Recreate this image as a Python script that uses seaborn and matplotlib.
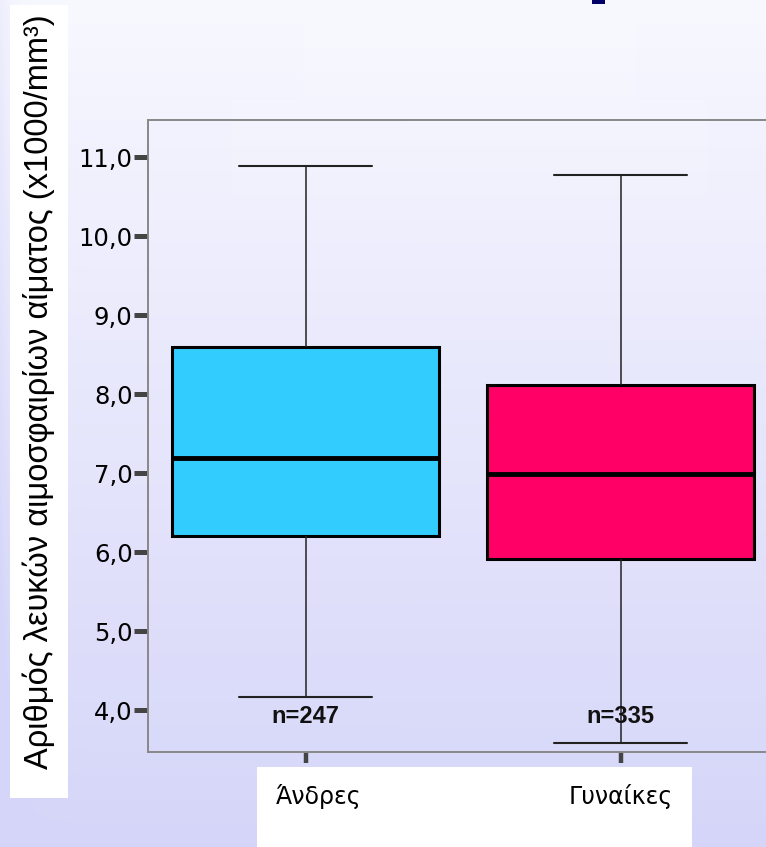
import numpy as np
import pandas as pd
import matplotlib
matplotlib.use("Agg")
import matplotlib.pyplot as plt
from matplotlib.patches import Rectangle
from matplotlib.ticker import FuncFormatter
from matplotlib.transforms import ScaledTranslation
import seaborn as sns

# White blood cell counts (x1000/mm³) by sex
groups = ["Άνδρες", "Γυναίκες"]
# five-number summaries: lower whisker, Q1, median, Q3, upper whisker
men_wbc = [4.17, 6.20, 7.19, 8.60, 10.89]
women_wbc = [3.59, 5.91, 6.99, 8.11, 10.78]
counts = [247, 335]
box_colors = ["#33CCFF", "#FF0066"]
y_ticks = [4, 5, 6, 7, 8, 9, 10, 11]
y_label = "Αριθμός λευκών αιμοσφαιρίων αίματος (x1000/mm³)"

df = pd.DataFrame({
    "group": np.repeat(groups, len(men_wbc)),
    "wbc": men_wbc + women_wbc,
})

sns.set_style("white")
plt.rcParams["font.family"] = ["DejaVu Sans"]

W, H = 766, 847
fig = plt.figure(figsize=(W / 100, H / 100), dpi=100)

# slide-style lavender background, drawn in pixel coordinates
bg = fig.add_axes([0, 0, 1, 1], zorder=-10)
yy, xx = np.mgrid[0:H, 0:W]
t = np.clip(yy / H + 0.3 * np.exp(-xx / 12.0), 0, 1)
c_top = np.array([248, 248, 255]) / 255
c_bot = np.array([213, 213, 249]) / 255
bg.imshow(c_top + t[..., None] * (c_bot - c_top), aspect="auto",
          extent=[0, W, H, 0], interpolation="bilinear")
bg.set_xlim(0, W)
bg.set_ylim(H, 0)
bg.axis("off")

# faint lighter title area
bg.add_patch(Rectangle((303, 0), 332, 100, color="white", alpha=0.12, lw=0))
bg.add_patch(Rectangle((232, 100), 475, 99, color="white", alpha=0.12, lw=0))
# fragment of the title glyph at the top edge
bg.add_patch(Rectangle((592, 0), 13, 4.5, color="#000066", lw=0))
# white panels behind the axis labels
bg.add_patch(Rectangle((10, 5), 58, 793, color="white", lw=0))
bg.add_patch(Rectangle((257, 767), 435, 80, color="white", lw=0))

ax = fig.add_axes([148 / W, 1 - 752 / H, 630 / W, 632 / H])
ax.patch.set_alpha(0)

sns.boxplot(
    data=df, x="group", y="wbc", hue="group",
    order=groups, hue_order=groups, palette=box_colors,
    saturation=1, width=0.85, whis=(0, 100), showfliers=False,
    linecolor="black", linewidth=1.1, legend=False,
    boxprops=dict(linewidth=2.2, edgecolor="black"),
    medianprops=dict(linewidth=3.5, color="black"),
    whiskerprops=dict(linewidth=1.1, color="#222222"),
    capprops=dict(linewidth=1.5, color="#222222"),
    ax=ax,
)

for i, n in enumerate(counts):
    ax.text(i, 3.92, f"n={n}", ha="center", va="center",
            fontsize=17, fontweight="bold",
            family=["Liberation Sans", "DejaVu Sans"], color="#111111")

ax.set_xlim(-0.5, 1.5)
ax.set_ylim(3.47, 11.47)
ax.set_yticks(y_ticks)
ax.yaxis.set_major_formatter(FuncFormatter(lambda v, _: f"{v:.1f}".replace(".", ",")))
ax.tick_params(axis="y", left=True, direction="out", length=10, width=3.6,
               color="#444444", labelsize=17.5, pad=1, labelcolor="black")
ax.tick_params(axis="x", bottom=True, direction="out", length=8, width=3.2,
               color="#444444", labelsize=17, pad=15, labelcolor="black")
ax.set_xlabel("")
ax.set_ylabel("")
for s in ax.spines.values():
    s.set_color("#888888")
    s.set_linewidth(1.4)

# the first category label sits slightly right of its tick
first = ax.get_xticklabels()[0]
first.set_transform(first.get_transform() + ScaledTranslation(0.13, 0, fig.dpi_scale_trans))

fig.text(39 / W, 1 - 392 / H, y_label, rotation=90, ha="center", va="center",
         fontsize=23.5, family=["Liberation Sans", "DejaVu Sans"], color="black")

fig.savefig("out.png", dpi=100)
